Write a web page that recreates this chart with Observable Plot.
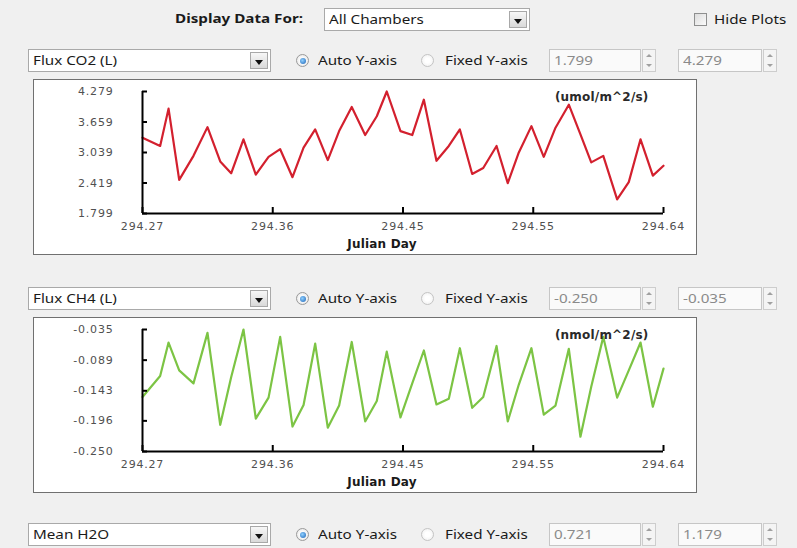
<!DOCTYPE html>
<html>
<head>
<meta charset="utf-8">
<script src="https://cdn.jsdelivr.net/npm/d3@7"></script>
<script src="https://cdn.jsdelivr.net/npm/@observablehq/plot@0.6"></script>
<style>
  html, body { margin: 0; padding: 0; background: #f0f0f0; }
  #root { position: relative; width: 797px; height: 548px; overflow: hidden; background: #f0f0f0;
          font-family: "Noto Sans", "Open Sans", sans-serif; font-size: 13px; color: #1a1a1a; }
  .lbl { position: absolute; white-space: nowrap; line-height: 23px; }
  .st { display: inline-block; transform: scaleX(1.17); transform-origin: left center; }
  .dd { position: absolute; height: 23px; background: #fff; border: 1px solid #a9a9a9; box-sizing: border-box;
        line-height: 21px; padding-left: 4px; white-space: nowrap; }
  .dd .btn { position: absolute; right: 2px; top: 2px; bottom: 2px; width: 18px; border: 1px solid #a8a8a8;
             background: linear-gradient(#f7f7f7, #d9d9d9); box-sizing: border-box; }
  .dd .btn::after { content: ""; position: absolute; left: 4px; top: 7px; border-left: 4px solid transparent;
             border-right: 4px solid transparent; border-top: 5px solid #111; }
  .radio { position: absolute; width: 13px; height: 13px; border-radius: 50%; border: 1px solid #9a9a9a;
           background: radial-gradient(circle, #ffffff 30%, #dedede); box-sizing: border-box; }
  .radio.off { border-color: #c4c4c4; background: radial-gradient(circle, #ffffff 30%, #ececec); }
  .radio.on::after { content: ""; position: absolute; left: 2.5px; top: 2.5px; width: 6px; height: 6px; border-radius: 50%;
           background: radial-gradient(circle at 40% 40%, #8fd0ff, #1b62b5); }
  .sb { position: absolute; height: 23px; background: #fafafa; border: 1px solid #c6c6c6; box-sizing: border-box;
        color: #8a8a8a; line-height: 21px; padding-left: 4px; white-space: nowrap; }
  .spin { position: absolute; width: 14px; height: 23px; border: 1px solid #cdcdcd; background: #f4f4f4; box-sizing: border-box; }
  .spin::before { content: ""; position: absolute; left: 3px; top: 4px; border-left: 3px solid transparent;
        border-right: 3px solid transparent; border-bottom: 3px solid #a0a0a0; }
  .spin::after { content: ""; position: absolute; left: 3px; bottom: 4px; border-left: 3px solid transparent;
        border-right: 3px solid transparent; border-top: 3px solid #a0a0a0; }
  .chk { position: absolute; width: 13px; height: 13px; border: 1px solid #8e8f8f; background: linear-gradient(135deg, #dcdcdc, #fbfbfb); box-sizing: border-box; }
  .panel { position: absolute; background: #fff; border: 1px solid #707070; box-sizing: border-box; }
  .panel svg { display: block; }
  .panel svg g[font-weight="bold"] { letter-spacing: 0.2px; }
</style>
</head>
<body>
<div id="root"></div>
<script>
// ---------------- data ----------------
const days = [294.2680, 294.2806, 294.2866, 294.2942, 294.3044, 294.3144, 294.3235, 294.3313, 294.3401, 294.3489,
              294.3580, 294.3663, 294.3751, 294.3830, 294.3913, 294.4003, 294.4084, 294.4174, 294.4270, 294.4353,
              294.4424, 294.4522, 294.4606, 294.4689, 294.4779, 294.4867, 294.4946, 294.5034, 294.5113, 294.5208,
              294.5288, 294.5367, 294.5457, 294.5545, 294.5629, 294.5724, 294.5807, 294.5884, 294.5970, 294.6069,
              294.6152, 294.6236, 294.6324, 294.6400];
const co2Flux = [3.341, 3.172, 3.931, 2.482, 2.971, 3.555, 2.858, 2.617, 3.307, 2.589,
                 2.951, 3.106, 2.537, 3.140, 3.508, 2.885, 3.474, 3.965, 3.394, 3.776,
                 4.279, 3.474, 3.394, 4.112, 2.871, 3.172, 3.508, 2.603, 2.724, 3.172,
                 2.416, 3.040, 3.575, 2.951, 3.543, 4.011, 3.408, 2.838, 2.971, 2.086,
                 2.436, 3.307, 2.569, 2.770];
const ch4Flux = [-0.154, -0.117, -0.058, -0.107, -0.130, -0.041, -0.203, -0.119, -0.035, -0.192,
                 -0.155, -0.048, -0.206, -0.168, -0.060, -0.208, -0.169, -0.057, -0.197, -0.161,
                 -0.074, -0.190, -0.130, -0.072, -0.167, -0.157, -0.068, -0.173, -0.154, -0.064,
                 -0.197, -0.132, -0.068, -0.185, -0.169, -0.069, -0.224, -0.136, -0.048, -0.155,
                 -0.107, -0.058, -0.171, -0.104];
const dayTicks = [294.268, 294.361, 294.454, 294.547, 294.640];
const dayTickLabels = ["294.27", "294.36", "294.45", "294.55", "294.64"];
const co2Ticks = [1.799, 2.419, 3.039, 3.659, 4.279];
const co2TickLabels = ["1.799", "2.419", "3.039", "3.659", "4.279"];
const ch4Ticks = [-0.250, -0.196, -0.143, -0.089, -0.035];
const ch4TickLabels = ["-0.250", "-0.196", "-0.143", "-0.089", "-0.035"];
const xLabel = "Julian Day";
const co2Unit = "(umol/m^2/s)";
const ch4Unit = "(nmol/m^2/s)";
const rowSeries = ["Flux CO2 (L)", "Flux CH4 (L)", "Mean H2O"];
const rowMin = ["1.799", "-0.250", "0.721"];
const rowMax = ["4.279", "-0.035", "1.179"];
const chamberLabel = "Display Data For:";
const chamberChoice = "All Chambers";
const hideLabel = "Hide Plots";
const autoLabel = "Auto Y-axis";
const fixedLabel = "Fixed Y-axis";

// ---------------- UI ----------------
const root = document.getElementById("root");
function el(cls, css, text) {
  const d = document.createElement("div");
  d.className = cls;
  Object.assign(d.style, css);
  if (text != null) {
    const s = document.createElement("span");
    s.className = "st";
    s.textContent = text;
    d.appendChild(s);
  }
  root.appendChild(d);
  return d;
}
// top row
el("lbl", {left: "175px", top: "7px", fontWeight: "bold"}, chamberLabel);
const dd0 = el("dd", {left: "324px", top: "8px", width: "206px"}, chamberChoice);
dd0.appendChild(Object.assign(document.createElement("div"), {className: "btn"}));
el("chk", {left: "694px", top: "13px"});
el("lbl", {left: "714px", top: "8px"}, hideLabel);

function controlRow(top, i) {
  const dd = el("dd", {left: "28px", top: top + "px", width: "243px"}, rowSeries[i]);
  dd.appendChild(Object.assign(document.createElement("div"), {className: "btn"}));
  el("radio on", {left: "296px", top: (top + 5) + "px"});
  el("lbl", {left: "318px", top: top + "px"}, autoLabel);
  el("radio off", {left: "421px", top: (top + 5) + "px"});
  el("lbl", {left: "445px", top: top + "px"}, fixedLabel);
  el("sb", {left: "549px", top: top + "px", width: "92px"}, rowMin[i]);
  el("spin", {left: "642px", top: top + "px"});
  el("sb", {left: "678px", top: top + "px", width: "84px"}, rowMax[i]);
  el("spin", {left: "763px", top: top + "px"});
}
controlRow(49, 0);
controlRow(287, 1);
controlRow(523, 2);

// ---------------- charts ----------------
function fluxChart(values, ticks, tickLabels, unit, color) {
  const rows = days.map((day, i) => ({day, value: values[i]}));
  return Plot.plot({
    width: 662,
    height: 174,
    marginLeft: 108,
    marginRight: 33,
    marginTop: 11,
    marginBottom: 41,
    style: "background:#fff;font-family:'DejaVu Sans',sans-serif;font-size:11px;letter-spacing:0.8px;overflow:visible;",
    x: {domain: [dayTicks[0], dayTicks[dayTicks.length - 1]]},
    y: {domain: [ticks[0], ticks[ticks.length - 1]]},
    marks: [
      Plot.lineY(rows, {x: "day", y: "value", stroke: color, strokeWidth: 2.2}),
      Plot.ruleX([dayTicks[0]], {stroke: "#000", strokeWidth: 2}),
      Plot.ruleY([ticks[0]], {stroke: "#000", strokeWidth: 2}),
      Plot.axisY(ticks, {tickSize: -5, tickPadding: 34, strokeWidth: 2, stroke: "#000", fill: "#505050",
        tickFormat: d => tickLabels[ticks.indexOf(d)], label: null}),
      Plot.axisX(dayTicks, {tickSize: -6, tickPadding: 15, strokeWidth: 2, stroke: "#000", fill: "#505050",
        tickFormat: d => dayTickLabels[dayTicks.indexOf(d)], label: null}),
      Plot.text([xLabel], {frameAnchor: "bottom", dx: -21, dy: 34, fontWeight: "bold", fontSize: 12, fill: "#1a1a1a"}),
      Plot.text([unit], {frameAnchor: "top-right", textAnchor: "end", dx: -15, dy: 1, fontWeight: "bold", fontSize: 12, fill: "#2a2a2a"})
    ]
  });
}
const p1 = el("panel", {left: "33px", top: "79px", width: "664px", height: "176px"});
p1.appendChild(fluxChart(co2Flux, co2Ticks, co2TickLabels, co2Unit, "#d3202e"));
const p2 = el("panel", {left: "33px", top: "317px", width: "664px", height: "176px"});
p2.appendChild(fluxChart(ch4Flux, ch4Ticks, ch4TickLabels, ch4Unit, "#7cc444"));
</script>
</body>
</html>
